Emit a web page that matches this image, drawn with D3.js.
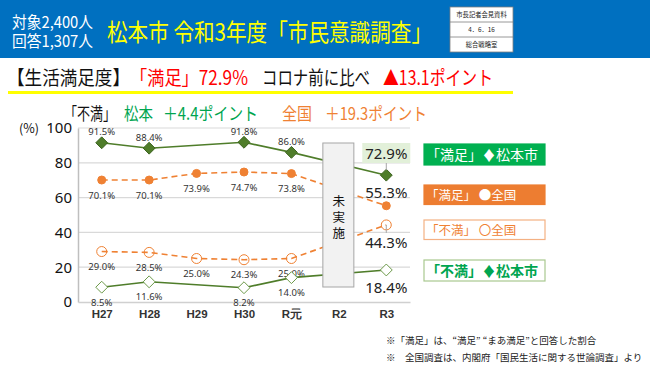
<!DOCTYPE html>
<html>
<head>
<meta charset="utf-8">
<script src="https://cdn.jsdelivr.net/npm/d3@7"></script>
<style>
  body { margin: 0; background: #fff; }
  svg { font-family: "Noto Sans CJK JP", "Noto Sans", sans-serif; }
</style>
</head>
<body>
<svg id="chart" width="650" height="365"></svg>
<script>
// data
const years = ["H27", "H28", "H29", "H30", "R元", "R2", "R3"];
const matsuSat = [91.5, 88.4, null, 91.8, 86.0, null, 72.9];
const natSat = [70.1, 70.1, 73.9, 74.7, 73.8, null, 55.3];
const natDis = [29.0, 28.5, 25.0, 24.3, 25.0, null, 44.3];
const matsuDis = [8.5, 11.6, null, 8.2, 14.0, null, 18.4];
const yTicks = [0, 20, 40, 60, 80, 100];

const green = "#4f7d2a", orange = "#ef8133";
const svg = d3.select("#chart");

// helper: text squeezed into a given width
function fitText(t, x0, x1, yb, size, color) {
    return svg.append("text").attr("x", x0).attr("y", yb).attr("font-size", size).attr("fill", color)
        .attr("textLength", x1 - x0).attr("lengthAdjust", "spacingAndGlyphs").text(t);
}

// header band
svg.append("rect").attr("x", 0).attr("y", 0).attr("width", 650).attr("height", 58).attr("fill", "#0070c0");
fitText("対象2,400人", 12, 93, 28, 16, "#fff");
fitText("回答1,307人", 12, 93, 47, 16, "#fff");
fitText("松本市 令和3年度「市民意識調査」", 107, 432, 41, 24, "#ffff00");

// small press box on the right
const box = svg.append("g").attr("transform", "translate(450,7)");
box.append("rect").attr("width", 63).attr("height", 45).attr("fill", "#fff").attr("stroke", "#7f7f7f").attr("stroke-width", 0.8);
[15, 30].forEach(y => box.append("line").attr("x1", 0).attr("x2", 63).attr("y1", y).attr("y2", y).attr("stroke", "#7f7f7f").attr("stroke-width", 0.8));
["市長記者会見資料", "4．6．16", "総合戦略室"].forEach((t, i) =>
    box.append("text").attr("x", 31.5).attr("y", 10 + i * 15).attr("text-anchor", "middle")
        .attr("font-size", 6.3).attr("fill", "#222").text(t));

// headline
fitText("【生活満足度】", 7, 130, 85, 19.5, "#111");
fitText("「満足」72.9%", 130, 248, 85, 19.5, "#f00");
fitText("コロナ前に比べ", 262, 370, 85, 19.5, "#111");
fitText("▲13.1ポイント", 383, 493, 85, 19.5, "#f00");
svg.append("rect").attr("x", 8).attr("y", 91).attr("width", 505).attr("height", 3).attr("fill", "#ffff00");

// sub headline
fitText("「不満」", 64, 116, 120, 17.5, "#111");
fitText("松本", 124, 153, 120, 17.5, "#00a550");
fitText("＋4.4ポイント", 163, 258, 120, 17.5, "#00a550");
fitText("全国", 282, 312, 120, 17.5, orange);
fitText("＋19.3ポイント", 325, 427, 120, 17.5, orange);

// scales
const x = d3.scalePoint().domain(years).range([78, 410]).padding(0.5);
const y = d3.scaleLinear().domain([0, 100]).range([302, 128]);

// gridlines
svg.append("g").selectAll("line").data(yTicks.filter(d => d > 0)).join("line")
    .attr("x1", 78).attr("x2", 410).attr("y1", d => y(d)).attr("y2", d => y(d))
    .attr("stroke", "#d9d9d9").attr("stroke-width", 1.2);

// axes
const yAxis = svg.append("g").attr("transform", "translate(78,0)")
    .call(d3.axisLeft(y).tickValues(yTicks).tickSize(0).tickPadding(6));
yAxis.select(".domain").attr("stroke", "#bfbfbf").attr("stroke-width", 1.5);
yAxis.selectAll("text").attr("font-size", 15).attr("fill", "#111").attr("font-family", "Noto Sans, sans-serif");
svg.append("text").attr("x", 19).attr("y", 133).attr("font-size", 12.5).attr("fill", "#111").text("(%)");

const xAxis = svg.append("g").attr("transform", "translate(0,302)")
    .call(d3.axisBottom(x).tickSize(0).tickPadding(8));
xAxis.select(".domain").attr("stroke", "#d0d0d0").attr("stroke-width", 1.5);
xAxis.selectAll("text").attr("font-size", 11.5).attr("font-weight", "bold").attr("fill", "#333");

// series
const pts = arr => years.map((yr, i) => ({ yr, v: arr[i] })).filter(d => d.v != null);
const line = d3.line().x(d => x(d.yr)).y(d => y(d.v));
const diamond = d3.symbol().type(d3.symbolDiamond2).size(90);

const series = [
    { data: matsuSat, color: green, dash: null, mark: "diamond", fill: green, dy: -11 },
    { data: natSat, color: orange, dash: "6,4", mark: "circle", fill: orange, dy: 15 },
    { data: natDis, color: orange, dash: "6,4", mark: "circle", fill: "none", dy: 15 },
    { data: matsuDis, color: green, dash: null, mark: "diamond", fill: "#fff", dy: 15 }
];

series.forEach(s => {
    const p = pts(s.data);
    svg.append("path").datum(p).attr("d", line).attr("fill", "none")
        .attr("stroke", s.color).attr("stroke-width", 1.6).attr("stroke-dasharray", s.dash);
    const g = svg.append("g");
    if (s.mark === "diamond") {
        g.selectAll("path").data(p).join("path")
            .attr("d", diamond).attr("transform", d => `translate(${x(d.yr)},${y(d.v)})`)
            .attr("fill", s.fill).attr("stroke", s.fill === "#fff" ? "#6d9a4a" : "#3d6420").attr("stroke-width", 1);
    } else {
        g.selectAll("circle").data(p).join("circle")
            .attr("cx", d => x(d.yr)).attr("cy", d => y(d.v)).attr("r", s.fill === "none" ? 5 : 4)
            .attr("fill", s.fill).attr("stroke", orange).attr("stroke-width", 1);
    }
    // small labels except last year
    svg.append("g").selectAll("text").data(p.filter(d => d.yr !== "R3")).join("text")
        .attr("x", d => x(d.yr)).attr("y", d => y(d.v) + s.dy + 3.5).attr("text-anchor", "middle")
        .attr("font-size", 9.5).attr("fill", "#333").attr("font-family", "Noto Sans, sans-serif")
        .text(d => d.v.toFixed(1) + "%");
});

// not surveyed box (covers the lines)
svg.append("rect").attr("x", x("R2") - 16).attr("y", 143).attr("width", 31).attr("height", 144)
    .attr("fill", "#f2f2f2").attr("stroke", "#a6a6a6").attr("stroke-width", 1);
["未", "実", "施"].forEach((c, i) => svg.append("text").attr("x", x("R2")).attr("y", 206 + i * 16)
    .attr("text-anchor", "middle").attr("font-size", 12.5).attr("fill", "#111").text(c));

// large labels for R3
const xr = x("R3");
svg.append("rect").attr("x", xr - 24).attr("y", 143).attr("width", 48).attr("height", 20).attr("fill", "#e2f0d9");
svg.append("line").attr("x1", xr).attr("x2", xr).attr("y1", 163).attr("y2", y(72.9) - 5).attr("stroke", "#a6a6a6");
svg.append("line").attr("x1", xr).attr("x2", xr).attr("y1", y(44.3)).attr("y2", y(44.3) + 8).attr("stroke", "#a6a6a6");
const big = [
    { v: matsuSat[6], cy: 153 },
    { v: natSat[6], cy: 192.5 },
    { v: natDis[6], cy: 242 },
    { v: matsuDis[6], cy: 287 }
];
svg.append("g").selectAll("text").data(big).join("text")
    .attr("x", xr).attr("y", d => d.cy + 5.5).attr("text-anchor", "middle")
    .attr("font-size", 15).attr("fill", "#222").attr("font-family", "Noto Sans, sans-serif")
    .text(d => d.v.toFixed(1) + "%");

// legend boxes
const legend = [
    { t: "「満足」♦松本市", y: 144, fill: "#00b050", stroke: "#00b050", c: "#fff" },
    { t: "「満足」 ●全国", y: 185, fill: "#ed7d31", stroke: "#ed7d31", c: "#fff" },
    { t: "「不満」 〇全国", y: 220, fill: "#fff", stroke: "#f4b183", c: orange },
    { t: "「不満」♦松本市", y: 260, fill: "#fff", stroke: "#a9c98f", c: "#00a550" }
];
legend.forEach((d, i) => {
    svg.append("rect").attr("x", 424).attr("y", d.y).attr("width", 121).attr("height", i === 0 || i === 3 ? 21 : 19.5)
        .attr("fill", d.fill).attr("stroke", d.stroke).attr("stroke-width", 1.2);
    svg.append("text").attr("x", 426).attr("y", d.y + (i === 0 || i === 3 ? 15.5 : 14.5))
        .attr("font-size", i === 0 || i === 3 ? 14 : 12.5).attr("font-weight", i === 3 ? "bold" : "normal")
        .attr("fill", d.c).text(d.t);
});

// footnotes
svg.append("text").attr("x", 386).attr("y", 344).attr("font-size", 9.5).attr("fill", "#222")
    .text("※「満足」は、“満足” “まあ満足”と回答した割合");
svg.append("text").attr("x", 386).attr("y", 361).attr("font-size", 9.5).attr("fill", "#222")
    .text("※　全国調査は、内閣府「国民生活に関する世論調査」より");
</script>
</body>
</html>
